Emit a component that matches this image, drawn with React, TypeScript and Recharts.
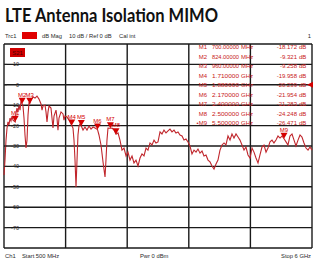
import {
  CartesianGrid,
  ComposedChart,
  Line,
  ReferenceDot,
  Scatter,
  XAxis,
  YAxis,
} from "recharts";

// S21 isolation trace, 500 MHz .. 6 GHz
const freqMHz = [
  500, 518, 536, 554, 571, 589, 607, 625, 643, 661, 700, 714, 732, 750, 768, 786, 804, 824,
  839, 857, 875, 893, 911, 929, 946, 960, 982, 1018, 1054, 1089, 1125, 1161, 1179, 1196,
  1232, 1250, 1268, 1286, 1304, 1339, 1357, 1375, 1393, 1429, 1446, 1464, 1482, 1518, 1554,
  1571, 1589, 1625, 1661, 1696, 1710, 1732, 1750, 1768, 1786, 1804, 1821, 1839, 1857, 1880,
  1911, 1946, 1982, 2018, 2054, 2089, 2125, 2170, 2196, 2232, 2268, 2304, 2321, 2339, 2357,
  2400, 2429, 2464, 2500, 2536, 2571, 2607, 2643, 2679, 2714, 2750, 2786, 2821, 2857, 2893,
  2929, 2964, 3000, 3036, 3071, 3107, 3143, 3179, 3214, 3250, 3286, 3321, 3357, 3393, 3429,
  3464, 3500, 3536, 3571, 3607, 3643, 3679, 3714, 3750, 3786, 3821, 3857, 3893, 3929, 3964,
  4000, 4036, 4071, 4107, 4143, 4179, 4214, 4250, 4286, 4321, 4357, 4393, 4429, 4464, 4500,
  4536, 4571, 4607, 4643, 4679, 4714, 4750, 4786, 4821, 4857, 4893, 4929, 4964, 5000, 5036,
  5071, 5107, 5143, 5179, 5214, 5250, 5286, 5321, 5357, 5393, 5429, 5464, 5500, 5536, 5571,
  5607, 5643, 5679, 5714, 5750, 5786, 5821, 5857, 5893, 5929, 5964, 6000,
];
const s21Db = [
  -44.2, -36.9, -27.1, -21.2, -18.2, -19.7, -16.3, -17.7, -15.3, -17.3, -18.172, -13.8, -11.4,
  -13.3, -9.9, -12.4, -7.9, -9.321, -10.4, -16.3, -24.6, -31.0, -27.1, -14.8, -8.9, -9.258,
  -7.5, -6.0, -6.5, -5.5, -7.0, -9.4, -12.4, -10.4, -9.9, -13.3, -18.2, -13.3, -10.4, -11.4,
  -16.3, -21.2, -15.3, -12.4, -16.3, -22.2, -16.3, -13.3, -14.3, -17.3, -15.3, -15.8, -17.3,
  -19.2, -19.958, -21.2, -27.1, -36.9, -50.1, -36.9, -24.6, -20.2, -19.2, -20.239, -22.2,
  -20.7, -22.2, -20.2, -21.7, -20.7, -21.2, -21.954, -24.6, -29.5, -37.8, -45.2, -36.9, -27.1,
  -21.2, -21.283, -21.2, -22.2, -24.248, -23.6, -27.1, -32.0, -31.0, -34.9, -33.0, -36.9,
  -34.9, -38.3, -36.9, -39.8, -35.9, -33.9, -34.9, -31.0, -32.0, -28.5, -29.5, -27.1, -28.5,
  -28.0, -23.1, -24.1, -22.2, -23.6, -22.6, -21.7, -23.1, -22.2, -23.6, -23.1, -24.6, -25.1,
  -27.1, -26.6, -28.0, -30.0, -33.9, -32.0, -33.0, -31.5, -33.5, -32.5, -34.9, -34.4, -36.9,
  -37.8, -39.8, -41.3, -38.8, -36.9, -32.0, -29.5, -28.5, -29.5, -25.1, -27.1, -24.1, -26.1,
  -24.1, -25.6, -27.1, -29.5, -32.0, -30.5, -34.4, -35.9, -31.0, -33.0, -35.9, -38.3, -34.4,
  -30.5, -29.5, -33.0, -31.0, -28.0, -27.1, -28.5, -27.1, -25.1, -26.1, -25.1, -26.471, -28.0,
  -29.5, -25.1, -24.1, -27.1, -30.0, -27.1, -24.6, -25.6, -28.5, -31.0, -32.0, -30.5, -32.0,
];

const markerNames = ["M1", "M2", "M3", "M4", "M5", "M6", "M7", "M8", "M9"];
const markerFreq = [700, 824, 960, 1710, 1880, 2170, 2400, 2500, 5500];
const markerDb = [-18.172, -9.321, -9.258, -19.958, -20.239, -21.954, -21.283, -24.248, -26.471];

const yTicks = [20, 10, 0, -10, -20, -30, -40, -50, -60, -70, -80];
const xTicks = [500, 1050, 1600, 2150, 2700, 3250, 3800, 4350, 4900, 5450, 6000];

const trace = freqMHz.map((f, i) => ({ f, db: s21Db[i] }));
const markers = markerFreq.map((f, i) => ({ f, db: markerDb[i], name: markerNames[i] }));

const RED = "#d40000";
const TRACE = "#c0262c";
const INK = "#2a2a2a";
const SMALL = "'Liberation Sans', Arial, sans-serif";

function YTick({ y, payload }: any) {
  const v = payload.value;
  if (v === 20 || v === -80) return <g />;
  return (
    <g>
      <line x1={4} x2={7} y1={y} y2={y} stroke={INK} strokeWidth={0.8} />
      <text x={19} y={y} dy={2} textAnchor="end" fontSize={5.5} fontFamily={SMALL} fill={INK}>
        {v}
      </text>
    </g>
  );
}

function MarkerShape({ cx, cy, payload }: any) {
  return (
    <g>
      <path d={`M${cx - 3.5},${cy - 6}L${cx + 3.5},${cy - 6}L${cx},${cy}Z`} fill={RED} />
      <text x={cx} y={cy - 7} textAnchor="middle" fontSize={6} fontFamily={SMALL} fill={RED}>
        {payload.name}
      </text>
    </g>
  );
}

function RefArrow({ cx, cy }: any) {
  return <path d={`M${cx - 5},${cy}L${cx + 1},${cy - 3}L${cx + 1},${cy + 3}Z`} fill={RED} />;
}

function fmtFreq(f: number) {
  return f < 1000 ? [f.toFixed(5), "MHz"] : [(f / 1000).toFixed(6), "GHz"];
}

export default function App() {
  return (
    <div style={{ position: "absolute", left: 0, top: 0, width: 313, height: 261, background: "#fff" }}>
      <ComposedChart
        width={313}
        height={261}
        data={trace}
        margin={{ top: 44, right: 1, bottom: 13, left: 4 }}
      >
        <CartesianGrid stroke="#1a1a1a" strokeWidth={1.4} horizontal vertical />
        <XAxis
          dataKey="f"
          type="number"
          domain={[500, 6000]}
          ticks={xTicks}
          hide
        />
        <YAxis
          type="number"
          domain={[-80, 20]}
          ticks={yTicks}
          width={20}
          mirror
          axisLine={false}
          tickLine={false}
          tick={<YTick />}
          interval={0}
        />
        <Line
          dataKey="db"
          stroke={TRACE}
          strokeWidth={1.1}
          dot={false}
          isAnimationActive={false}
        />
        <Scatter data={markers} dataKey="db" shape={<MarkerShape />} isAnimationActive={false} />
        <ReferenceDot x={6000} y={0} r={3} shape={<RefArrow />} ifOverflow="visible" />
      </ComposedChart>
      <svg
        width={313}
        height={261}
        style={{ position: "absolute", left: 0, top: 0, pointerEvents: "none" }}
      >
        <text x={5} y={22} fontFamily="Lato, 'Open Sans', sans-serif" fontWeight={700} fontSize={18} fill="#111" textLength={213} lengthAdjust="spacingAndGlyphs">
          LTE Antenna Isolation MIMO
        </text>
        <g fontFamily={SMALL} fontSize={5.8} fill={INK}>
          <text x={5} y={38}>Trc1</text>
          <rect x={22} y={32} width={15} height={7} fill="#e00000" />
          <text x={42} y={38}>dB Mag</text>
          <text x={69} y={38}>10 dB / Ref 0 dB</text>
          <text x={119} y={38}>Cal int</text>
          <text x={311} y={38} textAnchor="end">1</text>
          <text x={5} y={258}>Ch1</text>
          <text x={22} y={258}>Start 500 MHz</text>
          <text x={140} y={258}>Pwr 0 dBm</text>
          <text x={311} y={258} textAnchor="end">Stop 6 GHz</text>
        </g>
        <rect x={10} y={48} width={15} height={9} fill="#d00000" />
        <text x={17.5} y={55} textAnchor="middle" fontFamily={SMALL} fontSize={6} fill="#4a0000">S21</text>
        <g fontFamily={SMALL} fontSize={6} fill="#c82020">
          {markers.map((m, i) => {
            const y = 49 + i * 9.5;
            const [fv, unit] = fmtFreq(m.f);
            return (
              <g key={m.name}>
                <text x={207} y={y} textAnchor="end">{i === 8 ? "•" + m.name : m.name}</text>
                <text x={239} y={y} textAnchor="end" textLength={27} lengthAdjust="spacingAndGlyphs">{fv}</text>
                <text x={241} y={y}>{unit}</text>
                <text x={297} y={y} textAnchor="end">{m.db.toFixed(3)}</text>
                <text x={299} y={y}>dB</text>
              </g>
            );
          })}
        </g>
      </svg>
    </div>
  );
}
